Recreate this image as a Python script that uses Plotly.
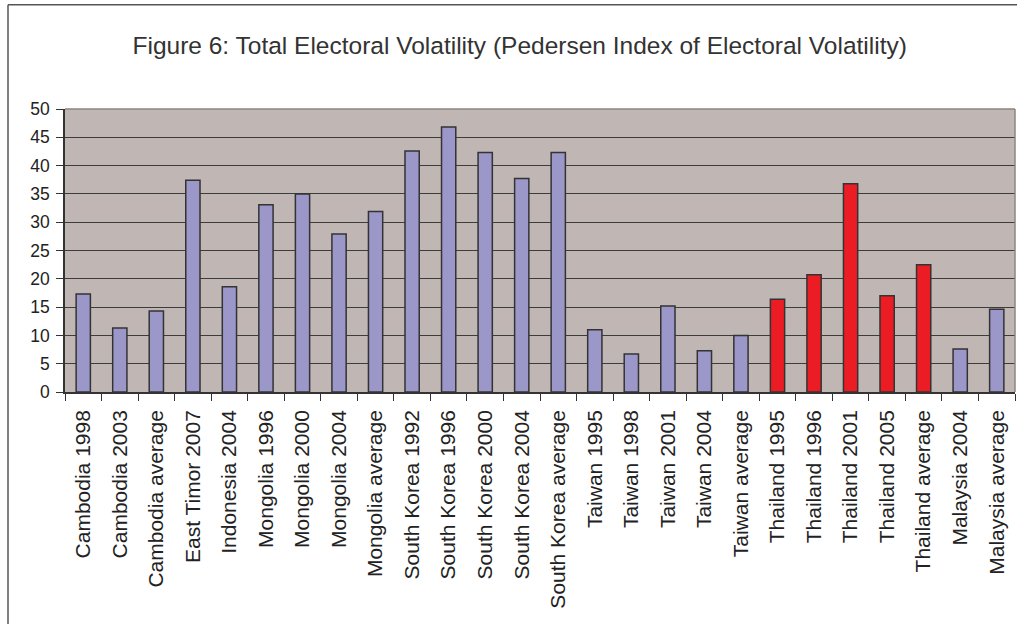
import plotly.graph_objects as go

# Pedersen index per election / country average
categories = [
    "Cambodia 1998", "Cambodia 2003", "Cambodia average", "East Timor 2007",
    "Indonesia 2004", "Mongolia 1996", "Mongolia 2000", "Mongolia 2004",
    "Mongolia average", "South Korea 1992", "South Korea 1996", "South Korea 2000",
    "South Korea 2004", "South Korea average", "Taiwan 1995", "Taiwan 1998",
    "Taiwan 2001", "Taiwan 2004", "Taiwan average", "Thailand 1995",
    "Thailand 1996", "Thailand 2001", "Thailand 2005", "Thailand average",
    "Malaysia 2004", "Malaysia average",
]
volatility = [
    17.3, 11.3, 14.3, 37.4,
    18.6, 33.1, 35.0, 27.9,
    31.9, 42.6, 46.8, 42.3,
    37.7, 42.3, 11.0, 6.7,
    15.2, 7.3, 10.0, 16.4,
    20.7, 36.8, 17.0, 22.5,
    7.6, 14.6,
]
highlight_country = "Thailand"
y_ticks = list(range(0, 51, 5))

BLUE = "#9b97c9"
RED = "#ec1c24"
colors = [RED if c.startswith(highlight_country) else BLUE for c in categories]

fig = go.Figure(
    go.Bar(
        x=categories,
        y=volatility,
        marker=dict(color=colors, line=dict(color="#333333", width=1.5)),
        hoverinfo="x+y",
    )
)

font_family = "Liberation Sans, Arial, sans-serif"

fig.update_layout(
    width=1017,
    height=624,
    margin=dict(l=65, r=2, t=109, b=232),
    paper_bgcolor="white",
    plot_bgcolor="#c0b7b4",
    bargap=0.61,
    showlegend=False,
    font=dict(family=font_family, color="#222222", size=17),
    title=dict(
        text="Figure 6: Total Electoral Volatility (Pedersen Index of Electoral Volatility)",
        font=dict(family=font_family, size=24.5, color="#333333"),
        x=0.511,
        xanchor="center",
        y=0.928,
        yanchor="middle",
    ),
    xaxis=dict(
        type="category",
        tickangle=-90,
        ticks="outside",
        tickson="boundaries",
        ticklen=7,
        tickcolor="#333333",
        showline=True,
        linecolor="#333333",
        linewidth=1.5,
        showgrid=False,
        ticklabelstandoff=8,
        tickfont=dict(size=21, color="#222222"),
        fixedrange=True,
    ),
    yaxis=dict(
        range=[0, 50],
        tickvals=y_ticks,
        ticks="outside",
        ticklen=7,
        tickcolor="#333333",
        showline=True,
        linecolor="#333333",
        linewidth=1.5,
        showgrid=True,
        gridcolor="#3c3c3c",
        gridwidth=1,
        zeroline=False,
        ticklabelstandoff=3,
        tickfont=dict(size=17.5, color="#222222"),
        fixedrange=True,
    ),
    shapes=[
        # plot-area border (top and right)
        dict(type="line", xref="paper", yref="paper", x0=0, x1=1, y0=1, y1=1,
             line=dict(color="#8c8482", width=1.5), layer="above"),
        dict(type="line", xref="paper", yref="paper", x0=1, x1=1, y0=0, y1=1,
             line=dict(color="#8c8482", width=1.5), layer="above"),
        # outer chart frame (top and left)
        dict(type="line", xref="paper", yref="paper", x0=-0.06, x1=1.01, y0=1.368, y1=1.368,
             line=dict(color="#555555", width=1.5)),
        dict(type="line", xref="paper", yref="paper", x0=-0.06, x1=-0.06, y0=-0.83, y1=1.368,
             line=dict(color="#555555", width=1.5)),
    ],
)

fig.write_html("out.html")
